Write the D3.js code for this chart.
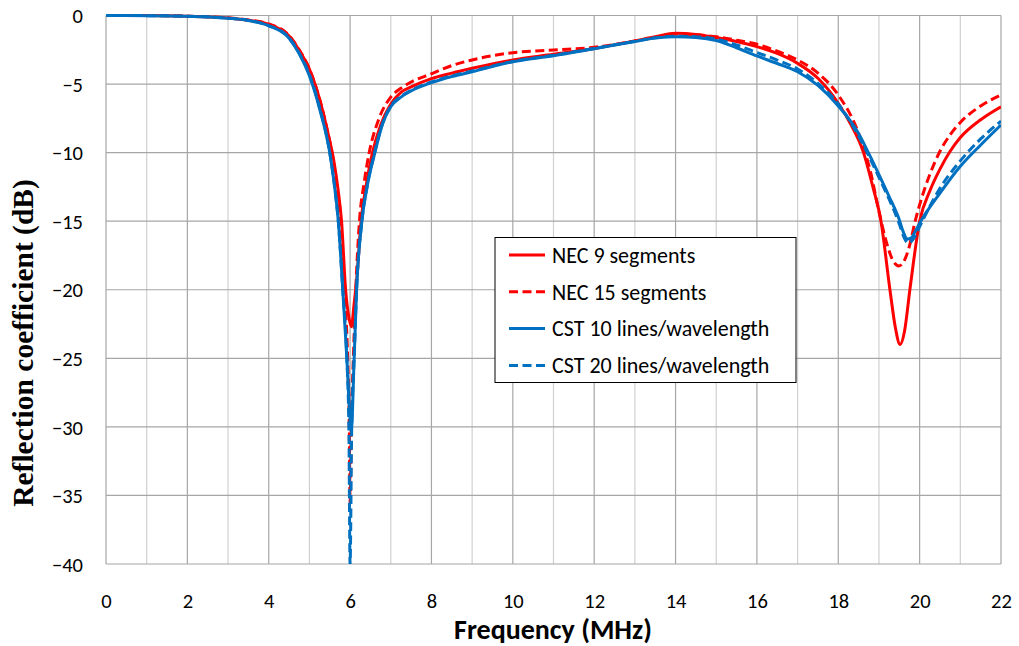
<!DOCTYPE html>
<html>
<head>
<meta charset="utf-8">
<script src="https://cdn.jsdelivr.net/npm/d3@7"></script>
<style>
  body { margin: 0; background: #fff; }
  svg { display: block; }
  text { font-family: Carlito, Lato, sans-serif; fill: #000; }
</style>
</head>
<body>
<div id="chart"></div>
<script>
// frequency (MHz), reflection coefficient (dB)
var nec9 = [[0,0],[1,0],[2,-0.05],[3,-0.18],[3.5,-0.35],[4,-0.65],[4.5,-1.5],[4.75,-2.55],[5,-3.9],[5.25,-6.1],
  [5.45,-8.5],[5.6,-10.6],[5.7,-12.6],[5.79,-15],[5.89,-20],[5.97,-22],[6.03,-22.7],[6.1,-21],[6.17,-19],
  [6.27,-15],[6.4,-12.3],[6.55,-10],[6.75,-8],[7,-6.45],[7.25,-5.6],[7.5,-5.2],[8,-4.6],[8.5,-4.2],[9,-3.85],
  [10,-3.24],[11,-2.83],[12,-2.4],[13,-1.85],[13.5,-1.55],[14,-1.3],[14.5,-1.38],[15,-1.6],[15.5,-1.9],
  [16,-2.27],[16.5,-2.77],[17,-3.49],[17.5,-4.58],[18,-6.4],[18.3,-7.9],[18.62,-10],[18.85,-12.5],
  [19.05,-15],[19.27,-20],[19.4,-22.7],[19.52,-24],[19.63,-23],[19.76,-20],[20,-15],[20.25,-12.8],
  [20.5,-11.2],[20.75,-9.9],[21,-8.9],[21.5,-7.6],[22,-6.65]];

var nec15 = [[0,0],[1,0],[2,-0.05],[3,-0.17],[3.5,-0.33],[4,-0.62],[4.5,-1.45],[4.75,-2.5],[5,-3.9],[5.25,-6.1],
  [5.45,-8.5],[5.57,-10.3],[5.67,-12.5],[5.76,-15],[5.86,-20],[5.94,-25],[5.98,-30],[6.0,-35.5],[6.03,-30],
  [6.08,-25],[6.14,-20],[6.23,-15],[6.34,-12.3],[6.47,-10],[6.7,-7.6],[7,-5.95],[7.25,-5.3],[7.5,-4.85],
  [8,-4.25],[8.5,-3.65],[9,-3.24],[10,-2.71],[11,-2.51],[12,-2.32],[13,-1.86],[13.5,-1.6],[14,-1.35],
  [14.5,-1.4],[15,-1.55],[15.5,-1.8],[16,-2.1],[16.5,-2.6],[17,-3.24],[17.5,-4.2],[18,-5.8],[18.5,-8.6],
  [18.8,-11.5],[19,-14.3],[19.2,-16.7],[19.35,-17.9],[19.49,-18.26],[19.6,-18.0],[19.75,-16.8],[19.89,-15],
  [20,-13.8],[20.25,-11.6],[20.5,-9.9],[20.75,-8.7],[21,-7.8],[21.5,-6.6],[22,-5.8]];

var cst10 = [[0,0],[1,-0.01],[2,-0.05],[3,-0.2],[3.5,-0.36],[4,-0.75],[4.5,-1.66],[4.75,-2.8],[5,-4.4],
  [5.25,-6.8],[5.5,-10],[5.62,-12.5],[5.71,-15],[5.82,-20],[5.92,-25],[6.03,-30.2],[6.1,-25],[6.16,-20],
  [6.29,-15],[6.43,-12.3],[6.61,-10],[6.8,-7.9],[7,-6.65],[7.25,-5.95],[7.5,-5.5],[8,-4.9],[8.5,-4.45],
  [9,-4.1],[10,-3.37],[11,-2.93],[12,-2.42],[13,-1.9],[13.5,-1.65],[14,-1.55],[14.5,-1.6],[15,-1.82],
  [15.5,-2.35],[16,-2.95],[16.5,-3.5],[17,-4.1],[17.5,-5.1],[18,-6.6],[18.5,-8.6],[18.74,-10],[19,-11.6],
  [19.25,-13.2],[19.5,-14.9],[19.6,-15.8],[19.7,-16.3],[19.8,-16.2],[19.9,-15.7],[20,-15.15],[20.5,-12.96],
  [21,-11],[21.5,-9.44],[22,-7.98]];

var cst20 = [[0,0],[1,-0.01],[2,-0.05],[3,-0.2],[3.5,-0.36],[4,-0.73],[4.5,-1.62],[4.75,-2.75],[5,-4.3],
  [5.25,-6.7],[5.5,-10],[5.62,-12.5],[5.71,-15],[5.82,-20],[5.92,-25],[5.97,-30],[6.0,-40],[6.04,-30],
  [6.1,-25],[6.16,-20],[6.29,-15],[6.43,-12.3],[6.6,-10],[6.8,-7.85],[7,-6.6],[7.25,-5.9],[7.5,-5.45],
  [8,-4.85],[8.5,-4.4],[9,-4.05],[10,-3.35],[11,-2.9],[12,-2.4],[13,-1.88],[13.5,-1.63],[14,-1.52],
  [14.5,-1.55],[15,-1.72],[15.5,-2.15],[16,-2.7],[16.5,-3.25],[17,-3.9],[17.5,-4.95],[18,-6.45],[18.5,-8.8],
  [19,-11.8],[19.5,-15.2],[19.62,-16.2],[19.72,-16.6],[19.82,-16.4],[19.92,-15.9],[20,-15.4],[20.5,-12.6],
  [21,-10.6],[21.5,-9.0],[22,-7.7]];

var seriesNames = ['NEC 9 segments', 'NEC 15 segments', 'CST 10 lines/wavelength', 'CST 20 lines/wavelength'];
var xTicks = [0,2,4,6,8,10,12,14,16,18,20,22];
var yTicks = [0,-5,-10,-15,-20,-25,-30,-35,-40];

(function() {
  var width = 1019, height = 646;
  var plotLeft = 106, plotRight = 1001, plotTop = 15.5, plotBottom = 564;

  var svg = d3.select('#chart').append('svg').attr('width', width).attr('height', height);

  var x = d3.scaleLinear().domain([0, 22]).range([plotLeft, plotRight]);
  var y = d3.scaleLinear().domain([0, -40]).range([plotTop, plotBottom]);

  // grid
  var grid = svg.append('g');
  grid.selectAll('.vgrid').data(d3.range(0, 23))
    .enter().append('line')
    .attr('x1', function(d) { return x(d); }).attr('x2', function(d) { return x(d); })
    .attr('y1', plotTop).attr('y2', plotBottom)
    .attr('stroke', function(d) { return d % 2 === 0 ? '#a6a6a6' : '#d0d0d0'; })
    .attr('stroke-width', 1.2);
  grid.selectAll('.hgrid').data(yTicks)
    .enter().append('line')
    .attr('x1', plotLeft).attr('x2', plotRight)
    .attr('y1', function(d) { return y(d); }).attr('y2', function(d) { return y(d); })
    .attr('stroke', '#a6a6a6').attr('stroke-width', 1.2);

  // axes (labels only)
  var xAxis = svg.append('g').attr('transform', 'translate(0,' + plotBottom + ')')
    .call(d3.axisBottom(x).tickValues(xTicks).tickSize(0).tickPadding(0).tickFormat(d3.format('d')));
  xAxis.select('.domain').remove();
  xAxis.selectAll('text').attr('dy', null).attr('y', 44)
    .style('font-size', '20.5px').style('font-family', 'Carlito, Lato, sans-serif');

  var yAxis = svg.append('g').attr('transform', 'translate(' + plotLeft + ',0)')
    .call(d3.axisLeft(y).tickValues(yTicks).tickSize(0).tickPadding(23).tickFormat(d3.format('d')));
  yAxis.select('.domain').remove();
  yAxis.selectAll('text').attr('dy', '0.35em')
    .style('font-size', '20.5px').style('font-family', 'Carlito, Lato, sans-serif');

  // titles
  svg.append('text')
    .attr('x', 553).attr('y', 639)
    .attr('text-anchor', 'middle')
    .style('font-size', '28px').style('font-weight', 'bold')
    .text('Frequency (MHz)');

  svg.append('text')
    .attr('transform', 'translate(33,343) rotate(-90)')
    .attr('text-anchor', 'middle')
    .style('font-family', '"Liberation Serif", "Times New Roman", serif')
    .style('font-size', '29.5px').style('font-weight', 'bold')
    .text('Reflection coefficient (dB)');

  // curves
  svg.append('clipPath').attr('id', 'plot-clip')
    .append('rect').attr('x', plotLeft).attr('y', plotTop - 3)
    .attr('width', plotRight - plotLeft).attr('height', plotBottom - plotTop + 3);

  var series = [
    { name: seriesNames[0], values: nec9, color: '#ff0000', dash: null },
    { name: seriesNames[1], values: nec15, color: '#ff0000', dash: '9,4.5' },
    { name: seriesNames[2], values: cst10, color: '#0070c0', dash: null },
    { name: seriesNames[3], values: cst20, color: '#0070c0', dash: '9,4.5' }
  ];

  var line = d3.line()
    .x(function(d) { return x(d[0]); })
    .y(function(d) { return y(d[1]); })
    .curve(d3.curveMonotoneX);

  svg.append('g').attr('clip-path', 'url(#plot-clip)')
    .selectAll('path').data(series)
    .enter().append('path')
    .attr('d', function(d) { return line(d.values); })
    .attr('fill', 'none')
    .attr('stroke', function(d) { return d.color; })
    .attr('stroke-width', 3)
    .attr('stroke-dasharray', function(d) { return d.dash; });

  // legend
  var legend = svg.append('g');
  legend.append('rect')
    .attr('x', 495).attr('y', 237.5).attr('width', 301).attr('height', 145)
    .attr('fill', '#fff').attr('stroke', '#000').attr('stroke-width', 1);

  var item = legend.selectAll('.item').data(series)
    .enter().append('g')
    .attr('transform', function(d, i) { return 'translate(0,' + (255 + i * 36.8) + ')'; });
  item.append('line')
    .attr('x1', 509).attr('x2', 545)
    .attr('stroke', function(d) { return d.color; })
    .attr('stroke-width', 3)
    .attr('stroke-dasharray', function(d) { return d.dash; });
  item.append('text')
    .attr('x', 552).attr('dy', '0.35em')
    .style('font-size', '22px')
    .text(function(d) { return d.name; });
})();
</script>
</body>
</html>
